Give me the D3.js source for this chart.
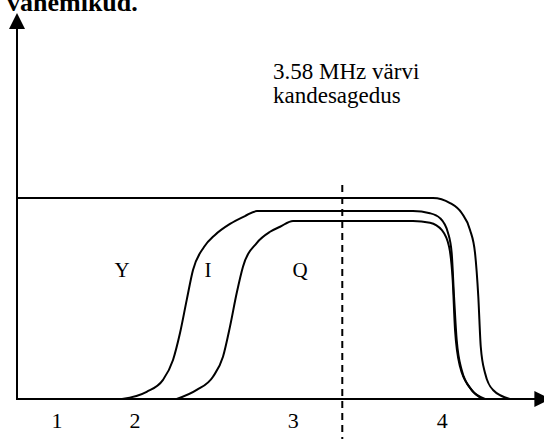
<!DOCTYPE html>
<html>
<head>
<meta charset="utf-8">
<script src="https://cdn.jsdelivr.net/npm/d3@7"></script>
<style>
  html, body { margin: 0; padding: 0; background: #fff; }
  svg { display: block; }
</style>
</head>
<body>
<svg id="chart" width="544" height="439"></svg>
<script>
// Pass bands of the luminance (Y) and chrominance (I, Q) signals.
// x: frequency (MHz-like units), y: relative amplitude.
const yBand = [
  [0.000, 1.000], [4.578, 1.000], [4.766, 0.975], [4.894, 0.925], [4.986, 0.841],
  [5.041, 0.726], [5.077, 0.509], [5.104, 0.260], [5.151, 0.129], [5.239, 0.045], [5.426, 0.000]
];
const iBand = [
  [1.156, 0.000], [1.427, 0.036], [1.607, 0.095], [1.717, 0.194], [1.794, 0.328],
  [1.868, 0.493], [1.937, 0.642], [2.058, 0.756], [2.179, 0.816], [2.344, 0.871],
  [2.509, 0.910], [2.641, 0.935], [4.358, 0.935], [4.545, 0.924], [4.655, 0.900],
  [4.744, 0.826], [4.784, 0.726], [4.810, 0.509], [4.839, 0.294], [4.894, 0.144],
  [5.004, 0.045], [5.151, 0.000]
];
const qBand = [
  [1.758, 0.000], [1.978, 0.045], [2.157, 0.111], [2.267, 0.210], [2.344, 0.360],
  [2.418, 0.527], [2.487, 0.658], [2.638, 0.776], [2.785, 0.832], [2.895, 0.857],
  [3.038, 0.886], [4.358, 0.886], [4.545, 0.877], [4.674, 0.841], [4.755, 0.758],
  [4.795, 0.592], [4.821, 0.343], [4.876, 0.161], [4.986, 0.055], [5.129, 0.000]
];

// Band names and where they are written
const bandLabels = ["Y", "I", "Q"];
const bandLabelX = [1.156, 2.102, 3.115];
const bandLabelY = 0.642;

// Region numbers along the frequency axis
const tickLabels = ["1", "2", "3", "4"];
const tickPositions = [0.44, 1.30, 3.04, 4.68];

// Colour subcarrier
const subcarrier = 3.58;
const subcarrierText = ["3.58 MHz värvi", "kandesagedus"];

const title = "vahemikud.";

const FONT = "'Liberation Serif', 'Times New Roman', serif";
const svg = d3.select("#chart");
const W = 544, H = 439;

const x = d3.scaleLinear().domain([0, 5.8]).range([17, 544]);
const y = d3.scaleLinear().domain([0, 1]).range([399, 198]);

// heading (partly above the top edge)
svg.append("text")
  .attr("x", 7).attr("y", 11)
  .attr("font-family", FONT)
  .attr("font-weight", "bold")
  .attr("font-size", 26)
  .text(title);

// subcarrier marker
svg.append("line")
  .attr("x1", x(subcarrier)).attr("x2", x(subcarrier))
  .attr("y1", y(1.065)).attr("y2", H)
  .attr("stroke", "#000").attr("stroke-width", 2)
  .attr("stroke-dasharray", "7,5");

// band curves
const line = d3.line()
  .x(d => x(d[0])).y(d => y(d[1]))
  .curve(d3.curveMonotoneX);

[yBand, iBand, qBand].forEach(band => {
  svg.append("path")
    .attr("d", line(band))
    .attr("fill", "none")
    .attr("stroke", "#000")
    .attr("stroke-width", 2);
});

// axes with arrowheads
const x0 = x(0), y0 = y(0);
const yTop = y(1.92), xEnd = x(5.87);
svg.append("line")
  .attr("x1", x0).attr("x2", x0).attr("y1", y0 + 1).attr("y2", yTop + 10)
  .attr("stroke", "#000").attr("stroke-width", 2);
svg.append("line")
  .attr("x1", x0 - 1).attr("x2", xEnd - 10).attr("y1", y0).attr("y2", y0)
  .attr("stroke", "#000").attr("stroke-width", 2);
svg.append("path")
  .attr("d", `M${x0},${yTop} L${x0 - 8},${yTop + 16} L${x0 + 8},${yTop + 16} Z`)
  .attr("fill", "#000");
svg.append("path")
  .attr("d", `M${xEnd},${y0} L${xEnd - 16},${y0 - 8} L${xEnd - 16},${y0 + 8} Z`)
  .attr("fill", "#000");

// band names
svg.selectAll("text.band")
  .data(bandLabels)
  .join("text")
  .attr("class", "band")
  .attr("x", (d, i) => x(bandLabelX[i]))
  .attr("y", y(bandLabelY))
  .attr("dy", "0.35em")
  .attr("text-anchor", "middle")
  .attr("font-family", FONT)
  .attr("font-size", 21)
  .text(d => d);

// region numbers
svg.selectAll("text.tick")
  .data(tickLabels)
  .join("text")
  .attr("class", "tick")
  .attr("x", (d, i) => x(tickPositions[i]))
  .attr("y", 428)
  .attr("text-anchor", "middle")
  .attr("font-family", FONT)
  .attr("font-size", 22)
  .text(d => d);

// subcarrier caption
svg.selectAll("text.cap")
  .data(subcarrierText)
  .join("text")
  .attr("class", "cap")
  .attr("x", 273)
  .attr("y", (d, i) => 79 + i * 24)
  .attr("font-family", FONT)
  .attr("font-size", 23)
  .text(d => d);
</script>
</body>
</html>
